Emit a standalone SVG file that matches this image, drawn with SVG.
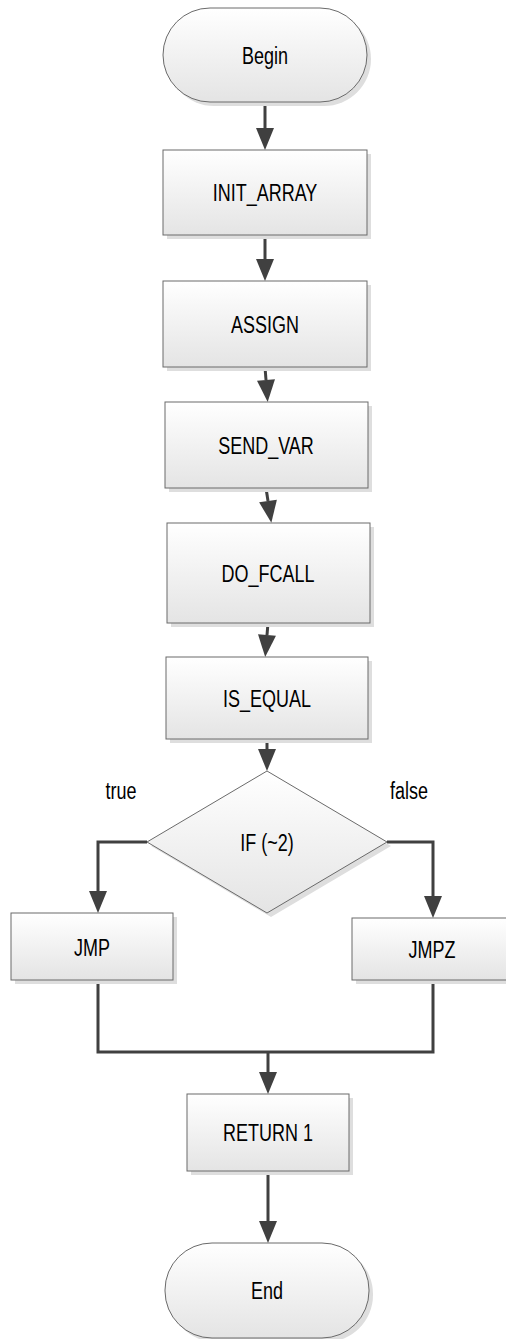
<svg xmlns="http://www.w3.org/2000/svg" width="506" height="1339" viewBox="0 0 506 1339">
<defs>
<linearGradient id="g" x1="0" y1="0" x2="0" y2="1">
<stop offset="0" stop-color="#ffffff"/>
<stop offset="1" stop-color="#e4e4e4"/>
</linearGradient>
<marker id="arr" markerUnits="userSpaceOnUse" markerWidth="24" markerHeight="20" viewBox="0 -10 24 20" refX="0" refY="0" orient="auto" overflow="visible">
<path d="M0,-9 L22,0 L0,9 Z" fill="#404040"/>
</marker>
</defs>
<style>
.sh{fill:#dedede;stroke:none}
.bx{fill:url(#g);stroke:#6a6a6a;stroke-width:1}
.t{font-family:"Liberation Sans",Arial,sans-serif;font-size:18px;fill:#000;text-anchor:middle}
.c{fill:none;stroke:#404040;stroke-width:3}
.ca{fill:none;stroke:#404040;stroke-width:3;marker-end:url(#arr)}
</style>

<g id="connectors">
<line class="ca" x1="265" y1="102" x2="265" y2="128"/>
<line class="ca" x1="265" y1="235" x2="265" y2="259"/>
<line class="ca" x1="265" y1="367" x2="266" y2="380"/>
<line class="ca" x1="266" y1="488" x2="268" y2="501"/>
<line class="ca" x1="268" y1="623" x2="267" y2="635"/>
<line class="ca" x1="267" y1="739" x2="267" y2="749"/>
<polyline class="ca" points="147,842 98,842 98,891"/>
<polyline class="ca" points="387,842 433,842 433,896"/>
<polyline class="c" points="98,980 98,1052 433,1052 433,980"/>
<line class="ca" x1="268" y1="1052" x2="268" y2="1072"/>
<line class="ca" x1="268" y1="1171" x2="268" y2="1221"/>
</g>

<g id="begin">
<rect class="sh" x="167" y="12" width="204" height="94" rx="47"/>
<rect class="bx" x="163" y="8" width="204" height="94" rx="47"/>
<text class="t" transform="translate(265,64) scale(1,1.32)">Begin</text>
</g>

<g id="init_array">
<rect class="sh" x="167" y="154" width="204" height="85"/>
<rect class="bx" x="163" y="150" width="204" height="85"/>
<text class="t" transform="translate(265,201) scale(1,1.32)">INIT_ARRAY</text>
</g>

<g id="assign">
<rect class="sh" x="167" y="285" width="204" height="86"/>
<rect class="bx" x="163" y="281" width="204" height="86"/>
<text class="t" transform="translate(265,333) scale(1,1.32)">ASSIGN</text>
</g>

<g id="send_var">
<rect class="sh" x="169" y="406" width="203" height="86"/>
<rect class="bx" x="165" y="402" width="203" height="86"/>
<text class="t" transform="translate(266,454) scale(1,1.32)">SEND_VAR</text>
</g>

<g id="do_fcall">
<rect class="sh" x="171" y="527" width="203" height="100"/>
<rect class="bx" x="167" y="523" width="203" height="100"/>
<text class="t" transform="translate(268,582) scale(1,1.32)">DO_FCALL</text>
</g>

<g id="is_equal">
<rect class="sh" x="170" y="661" width="202" height="82"/>
<rect class="bx" x="166" y="657" width="202" height="82"/>
<text class="t" transform="translate(267,707) scale(1,1.32)">IS_EQUAL</text>
</g>

<g id="if">
<polygon class="sh" points="271,775 391,846 271,917 151,846"/>
<polygon class="bx" points="267,771 387,842 267,913 147,842"/>
<text class="t" transform="translate(267,851) scale(1,1.32)">IF (~2)</text>
</g>

<text class="t" transform="translate(121,799) scale(1,1.32)">true</text>
<text class="t" transform="translate(409,799) scale(1,1.32)">false</text>

<g id="jmp">
<rect class="sh" x="15" y="917" width="162" height="67"/>
<rect class="bx" x="11" y="913" width="162" height="67"/>
<text class="t" transform="translate(92,956) scale(1,1.32)">JMP</text>
</g>

<g id="jmpz">
<rect class="sh" x="356" y="922" width="160" height="62"/>
<rect class="bx" x="352" y="918" width="160" height="62"/>
<text class="t" transform="translate(432,958) scale(1,1.32)">JMPZ</text>
</g>

<g id="return1">
<rect class="sh" x="191" y="1098" width="162" height="77"/>
<rect class="bx" x="187" y="1094" width="162" height="77"/>
<text class="t" transform="translate(268,1141) scale(1,1.32)">RETURN 1</text>
</g>

<g id="end">
<rect class="sh" x="169" y="1247" width="204" height="95" rx="47"/>
<rect class="bx" x="165" y="1243" width="204" height="95" rx="47"/>
<text class="t" transform="translate(267,1299) scale(1,1.32)">End</text>
</g>
</svg>
